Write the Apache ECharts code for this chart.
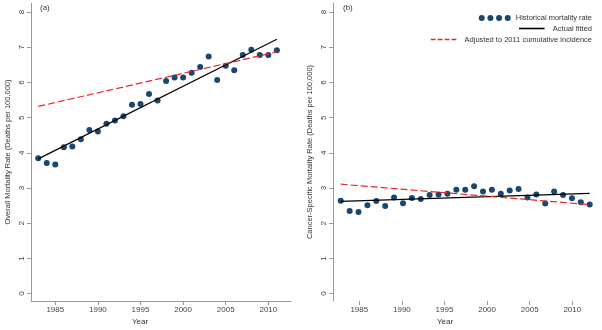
<!DOCTYPE html>
<html>
<head>
<meta charset="utf-8">
<title>Mortality rate trends</title>
<script src="https://cdn.jsdelivr.net/npm/echarts@6.0.0/dist/echarts.min.js"></script>
<style>
  html, body { margin: 0; padding: 0; background: #fff; }
  #chart { width: 602px; height: 330px; }
</style>
</head>
<body>
<div id="chart"></div>
<script>
// years of observation
const years = [1983, 1984, 1985, 1986, 1987, 1988, 1989, 1990, 1991, 1992,
  1993, 1994, 1995, 1996, 1997, 1998, 1999, 2000, 2001, 2002,
  2003, 2004, 2005, 2006, 2007, 2008, 2009, 2010, 2011];

// (a) overall mortality rate, deaths per 100,000
const overallRate = [3.85, 3.71, 3.67, 4.16, 4.18, 4.39, 4.65, 4.61, 4.83, 4.92,
  5.04, 5.37, 5.39, 5.67, 5.49, 6.04, 6.14, 6.14, 6.28, 6.44,
  6.74, 6.07, 6.48, 6.35, 6.78, 6.93, 6.78, 6.78, 6.92];

// (b) cancer-specific mortality rate, deaths per 100,000
const cancerRate = [2.64, 2.35, 2.32, 2.51, 2.63, 2.49, 2.73, 2.57, 2.72, 2.69,
  2.80, 2.82, 2.84, 2.95, 2.95, 3.05, 2.90, 2.95, 2.84, 2.93,
  2.97, 2.73, 2.82, 2.56, 2.90, 2.80, 2.71, 2.60, 2.53];

// fitted lines: values at first and last year
const fitYears = [1983, 2011];
const overallFitted = [3.83, 7.23];
const overallAdjusted = [5.32, 6.87];
const cancerFitted = [2.62, 2.85];
const cancerAdjusted = [3.11, 2.53];

const yTicks = [0, 1, 2, 3, 4, 5, 6, 7, 8];
const xTicks = [1985, 1990, 1995, 2000, 2005, 2010];

const NAME_POINTS = 'Historical mortality rate';
const NAME_FIT = 'Actual fitted';
const NAME_ADJ = 'Adjusted to 2011 cumulative incidence';

const FONT = '"Liberation Sans", Arial, sans-serif';
const DOT = '#1a476f';
const RED = '#e8262b';

function pairs(xs, ys) {
  return xs.map(function (x, i) { return [x, ys[i]]; });
}

function yAxis(gridIndex, name) {
  return {
    type: 'value',
    gridIndex: gridIndex,
    min: -0.21,
    max: 8.26,
    name: name,
    nameLocation: 'middle',
    nameGap: 19,
    nameTextStyle: { fontFamily: FONT, fontSize: 7.5, color: '#333' },
    axisLine: { show: true, lineStyle: { color: '#999', width: 1 } },
    axisTick: { show: true, length: 4, customValues: yTicks, lineStyle: { color: '#999' } },
    axisLabel: {
      customValues: yTicks, rotate: 90, margin: 5,
      fontFamily: FONT, fontSize: 8, color: '#444'
    },
    splitLine: { show: false }
  };
}

function xAxis(gridIndex, min, max, showLine) {
  return {
    type: 'value',
    gridIndex: gridIndex,
    min: min,
    max: max,
    axisLine: { show: showLine, onZero: false, lineStyle: { color: '#999', width: 1 } },
    axisTick: { show: true, length: 4, customValues: xTicks, lineStyle: { color: '#999' } },
    axisLabel: {
      customValues: xTicks, margin: 5,
      formatter: function (v) { return String(v); },
      fontFamily: FONT, fontSize: 8, color: '#444'
    },
    splitLine: { show: false }
  };
}

function scatterSeries(xi, yi, data) {
  return {
    name: NAME_POINTS, type: 'scatter', xAxisIndex: xi, yAxisIndex: yi,
    data: data, symbolSize: 6, itemStyle: { color: DOT, opacity: 1 }, z: 2
  };
}

function lineSeries(name, xi, yi, data, color, dashed) {
  return {
    name: name, type: 'line', xAxisIndex: xi, yAxisIndex: yi,
    data: data, symbol: 'none', z: 3,
    itemStyle: { color: color },
    lineStyle: { color: color, width: 1.2, type: dashed ? [7, 3] : 'solid' }
  };
}

function legendRow(name, top, width, height, icon) {
  return {
    data: [name], right: 5, top: top,
    itemWidth: width, itemHeight: height,
    icon: icon,
    selectedMode: false,
    textStyle: { fontFamily: FONT, fontSize: 7.5, color: '#333' }
  };
}

// legend keys drawn as paths: four dots, a solid bar, a dashed bar
const dotsIcon = 'path://M0,3a3,3 0 1,0 6,0a3,3 0 1,0 -6,0z' +
  'M8.67,3a3,3 0 1,0 6,0a3,3 0 1,0 -6,0z' +
  'M17.33,3a3,3 0 1,0 6,0a3,3 0 1,0 -6,0z' +
  'M26,3a3,3 0 1,0 6,0a3,3 0 1,0 -6,0z';
const solidIcon = 'path://M0,0H32V2H0z';
const dashIcon = 'path://M0,0H6V2H0zM8.7,0H14.7V2H8.7zM17.3,0H23.3V2H17.3zM26,0H32V2H26z';

const chart = echarts.init(document.getElementById('chart'), null, { renderer: 'canvas' });

chart.setOption({
  animation: false,
  backgroundColor: '#fff',
  grid: [
    { left: 31, top: 3, width: 260, bottom: 29 },
    { left: 333, top: 3, width: 260, bottom: 29 }
  ],
  xAxis: [
    xAxis(0, 1982.15, 2012.66, true),
    xAxis(1, 1981.91, 2012.43, false),
    // right panel data are spread slightly wider than its year ticks
    { type: 'value', gridIndex: 1, min: 1982.13, max: 2011.37, show: false }
  ],
  yAxis: [
    yAxis(0, 'Overall Mortality Rate (Deaths per 100,000)'),
    yAxis(1, 'Cancer-Specific Mortality Rate (Deaths per 100,000)')
  ],
  legend: [
    legendRow(NAME_POINTS, 9, 32, 6, dotsIcon),
    legendRow(NAME_FIT, 19.5, 32, 1.6, solidIcon),
    legendRow(NAME_ADJ, 30.5, 32, 1.6, dashIcon)
  ],
  graphic: [
    { type: 'text', left: 40, top: 4, style: { text: '(a)', font: '8px ' + FONT, fill: '#333' } },
    { type: 'text', left: 343, top: 4, style: { text: '(b)', font: '8px ' + FONT, fill: '#333' } },
    { type: 'text', x: 140, y: 322, style: { text: 'Year', font: '8px ' + FONT, fill: '#333', align: 'center', verticalAlign: 'middle' } },
    { type: 'text', x: 445, y: 322, style: { text: 'Year', font: '8px ' + FONT, fill: '#333', align: 'center', verticalAlign: 'middle' } }
  ],
  series: [
    scatterSeries(0, 0, pairs(years, overallRate)),
    lineSeries(NAME_FIT, 0, 0, pairs(fitYears, overallFitted), '#000', false),
    lineSeries(NAME_ADJ, 0, 0, pairs(fitYears, overallAdjusted), RED, true),
    scatterSeries(2, 1, pairs(years, cancerRate)),
    lineSeries(NAME_FIT, 2, 1, pairs(fitYears, cancerFitted), '#000', false),
    lineSeries(NAME_ADJ, 2, 1, pairs(fitYears, cancerAdjusted), RED, true)
  ]
});
</script>
</body>
</html>
